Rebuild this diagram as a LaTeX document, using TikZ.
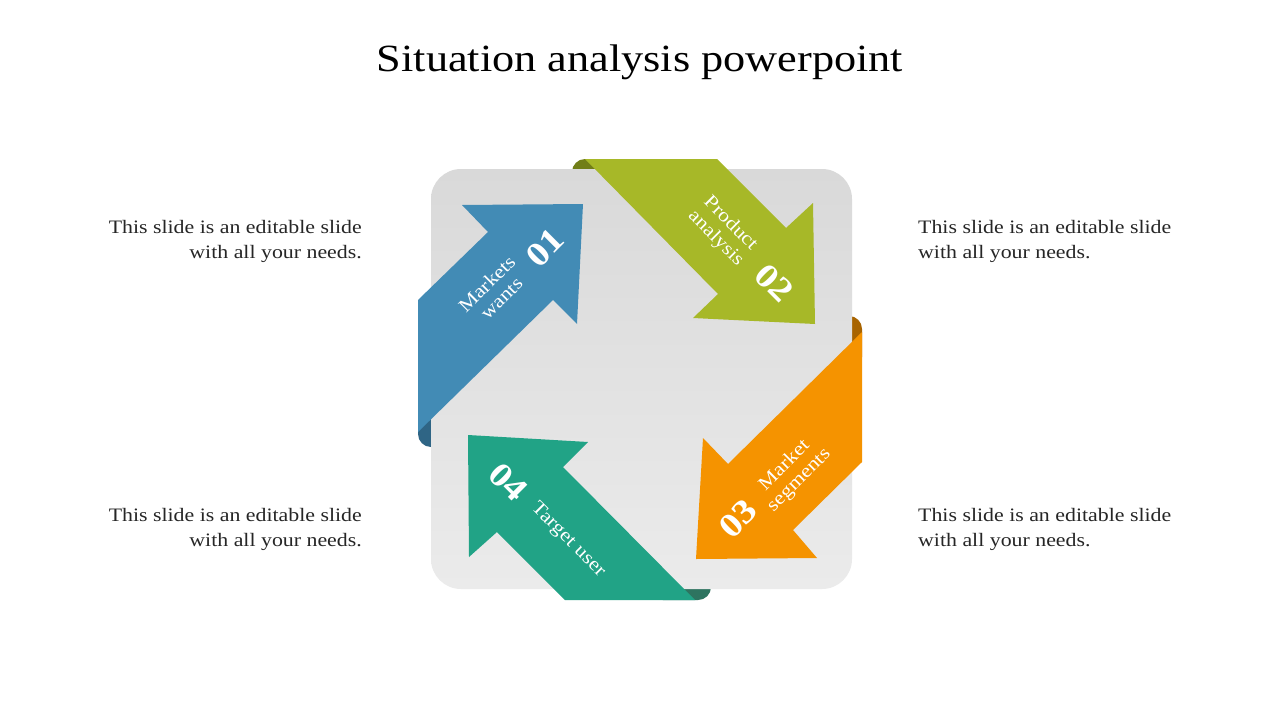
\documentclass[tikz,border=0pt]{standalone}
\usepackage{fontspec}
\setmainfont{Liberation Serif}[FakeStretch=1.15]
\definecolor{blueA}{RGB}{66,139,181}
\definecolor{blueD}{RGB}{47,101,133}
\definecolor{greenA}{RGB}{167,184,40}
\definecolor{greenD}{RGB}{113,126,24}
\definecolor{orangeA}{RGB}{245,147,0}
\definecolor{orangeD}{RGB}{168,100,0}
\definecolor{tealA}{RGB}{33,163,134}
\definecolor{tealD}{RGB}{46,116,96}
\definecolor{sqtop}{RGB}{217,217,217}
\definecolor{sqbot}{RGB}{235,235,235}
\definecolor{bodytext}{RGB}{38,38,38}
\tikzset{
  curl/.style={rounded corners=13pt},
  lbl/.style={text=white, align=center, inner sep=0pt, font=\fontsize{19}{20.5}\selectfont},
  num/.style={text=white, inner sep=0pt, font=\fontsize{34}{36}\selectfont\bfseries},
  body/.style={text=bodytext, inner sep=0pt, font=\fontsize{19}{25}\selectfont},
}
\begin{document}
\begin{tikzpicture}[x=1pt,y=-1pt]
\useasboundingbox (0,0) rectangle (1280,720);
\fill[white] (0,0) rectangle (1280,720);
% title
\node[text=black, inner sep=0pt, font=\fontsize{38.5}{40}\selectfont] (title) at (640,62) {Situation analysis powerpoint};
% curls behind the square
\fill[blueD, curl] (418,380) rectangle (460,447);
\fill[greenD, curl] (572,159) rectangle (640,200);
\fill[orangeD, curl] (815,316) rectangle (862,370);
\fill[tealD, curl] (650,555) rectangle (711,600);
% gray square
\shade[top color=sqtop, bottom color=sqbot, rounded corners=30pt] (431,169) rectangle (852,589);
% arrows
\fill[blueA] (418,300) -- (418,432) -- (553,300) -- (577,324) -- (583,204) -- (462,205) -- (488,232) -- cycle;
\fill[greenA] (585,159) -- (717,159) -- (786,228) -- (813,203) -- (815,324) -- (693,318) -- (718,294) -- cycle;
\fill[orangeA] (862,332) -- (862,462) -- (793,530) -- (817,558) -- (696,559) -- (703,438) -- (728,464) -- cycle;
\fill[tealA] (468,435) -- (588,442) -- (563,467) -- (695,600) -- (565,600) -- (497,532) -- (469,557) -- cycle;
% arrow labels
\node[lbl, rotate=45] (l1) at (494,291) {Markets\\wants};
\node[num, rotate=45] (n1) at (545,248) {01};
\node[lbl, rotate=-45] (l2) at (723,231) {Product\\analysis};
\node[num, rotate=-45] (n2) at (774,283) {02};
\node[lbl, rotate=45] (l3) at (792,473) {Market\\segments};
\node[num, rotate=45] (n3) at (738,519) {03};
\node[num, rotate=-45] (n4) at (508,482) {04};
\node[lbl, rotate=-45] (l4) at (568,540) {Target user};
% side texts
\node[body, align=right, anchor=east] (t1) at (362,241.5) {This slide is an editable slide\\with all your needs.};
\node[body, align=left, anchor=west] (t2) at (918,241.5) {This slide is an editable slide\\with all your needs.};
\node[body, align=right, anchor=east] (t3) at (362,529.5) {This slide is an editable slide\\with all your needs.};
\node[body, align=left, anchor=west] (t4) at (918,529.5) {This slide is an editable slide\\with all your needs.};
\end{tikzpicture}
\end{document}
